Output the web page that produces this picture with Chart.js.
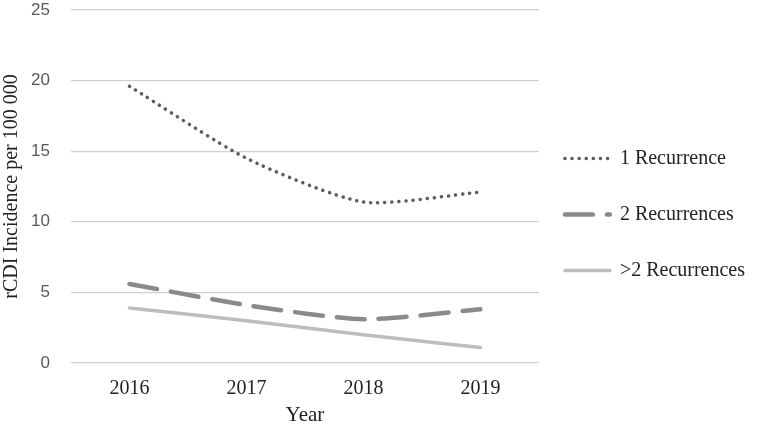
<!DOCTYPE html>
<html>
<head>
<meta charset="utf-8">
<script src="https://cdn.jsdelivr.net/npm/chart.js@4/dist/chart.umd.min.js"></script>
<style>
  html, body { margin: 0; padding: 0; background: #fff; }
  #wrap { width: 771px; height: 428px; }
</style>
</head>
<body>
<div id="wrap"><canvas id="chart" width="771" height="428"></canvas></div>
<script>
// values
const years = ['2016', '2017', '2018', '2019'];
const oneRecurrence = [19.6, 14.5, 11.4, 12.1];
const twoRecurrences = [5.6, 4.1, 3.1, 3.8];
const moreRecurrences = [3.9, 3.0, 2.0, 1.1];
const yTicks = [0, 5, 10, 15, 20, 25];

const serif = '"Liberation Serif", "Times New Roman", serif';
const sans = '"Liberation Sans", Arial, sans-serif';

// Excel-like line series
function lineSet(label, data, color, width, dash) {
    return {
        label: label,
        data: data,
        borderColor: color,
        backgroundColor: color,
        borderWidth: width,
        borderDash: dash,
        borderCapStyle: 'round',
        pointRadius: 0,
        pointHoverRadius: 0,
        tension: 0.22,
        fill: false
    };
}

// legend samples keep the dash pattern of their line
function legendLabels(chart) {
    const items = Chart.defaults.plugins.legend.labels.generateLabels(chart);
    return items.map(item => {
        const ds = chart.data.datasets[item.datasetIndex];
        item.lineDash = ds.borderDash;
        item.lineCap = 'round';
        item.lineWidth = ds.borderWidth;
        item.strokeStyle = ds.borderColor;
        return item;
    });
}

// pull the legend a little closer to the plot, like the original
const legendNudge = {
    id: 'legendNudge',
    afterLayout(chart) {
        chart.legend.left -= 10;
    }
};

const ctx = document.getElementById('chart').getContext('2d');
new Chart(ctx, {
    type: 'line',
    data: {
        labels: years,
        datasets: [
            lineSet('1 Recurrence', oneRecurrence, '#5c5c5c', 3.5, [0.1, 7]),
            lineSet('2 Recurrences', twoRecurrences, '#8a8a8a', 4.5, [28, 14]),
            lineSet('>2 Recurrences', moreRecurrences, '#bdbdbd', 3.5, [])
        ]
    },
    plugins: [legendNudge],
    options: {
        responsive: false,
        animation: false,
        layout: { padding: { top: 1, right: 6, bottom: 0, left: 0 } },
        plugins: {
            tooltip: { enabled: false },
            legend: {
                position: 'right',
                maxWidth: 240,
                labels: {
                    usePointStyle: true,
                    pointStyle: 'line',
                    pointStyleWidth: 45,
                    padding: 36,
                    color: '#222',
                    font: { family: serif, size: 20 },
                    generateLabels: legendLabels
                }
            }
        },
        scales: {
            x: {
                offset: true,
                afterFit: axis => { axis.height = 65; },
                grid: { display: false, drawTicks: false },
                border: { display: false },
                ticks: { color: '#222', padding: 14, maxRotation: 0, font: { family: serif, size: 20 } },
                title: {
                    display: true,
                    text: 'Year',
                    color: '#222',
                    padding: { top: 4, bottom: 0 },
                    font: { family: serif, size: 21 }
                }
            },
            y: {
                min: 0,
                max: 25,
                afterBuildTicks: axis => { axis.ticks = yTicks.map(v => ({ value: v })); },
                afterFit: axis => {
                    axis.width = 71;
                    axis.paddingTop = 10;
                    axis.paddingBottom = 10;
                },
                grid: { color: '#d0d0d0', lineWidth: 1.3, drawTicks: false },
                border: { display: false },
                ticks: { color: '#595959', padding: 21, font: { family: sans, size: 17 } },
                title: {
                    display: true,
                    text: 'rCDI Incidence per 100 000',
                    color: '#222',
                    padding: { top: 0, bottom: 6 },
                    font: { family: serif, size: 20 }
                }
            }
        }
    }
});
</script>
</body>
</html>
